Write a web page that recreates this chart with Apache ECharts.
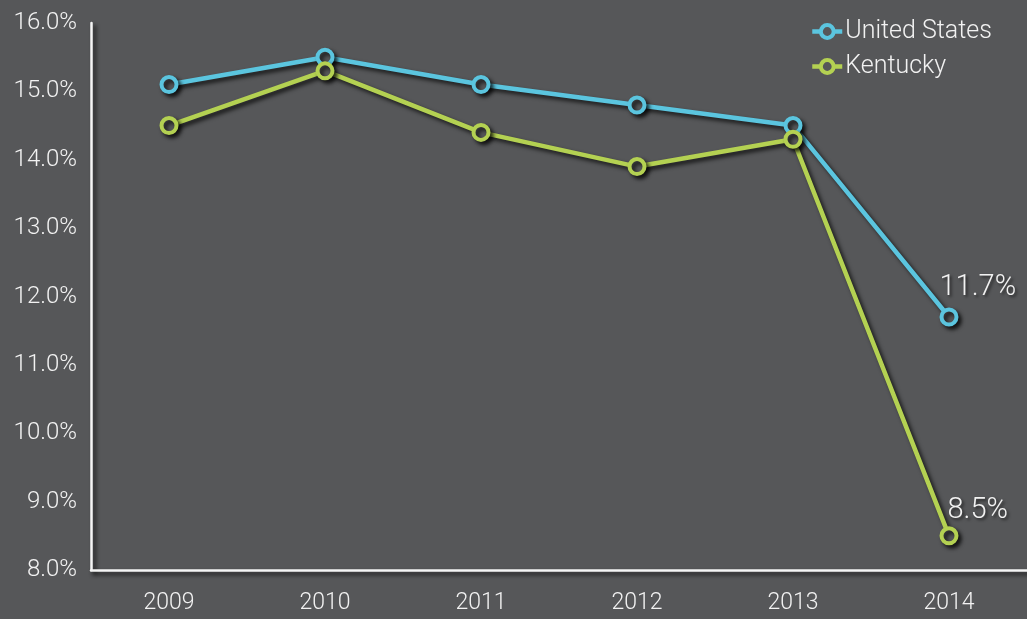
<!DOCTYPE html>
<html><head><meta charset="utf-8">
<script src="https://cdn.jsdelivr.net/npm/echarts@6/dist/echarts.min.js"></script>
<style>html,body{margin:0;padding:0;background:#565759;}#c{width:1027px;height:619px;}</style>
</head><body><div id="c"></div>
<script>
const years = ['2009','2010','2011','2012','2013','2014'];
const usValues = [15.1, 15.5, 15.1, 14.8, 14.5, 11.7];
const kyValues = [14.5, 15.3, 14.4, 13.9, 14.3, 8.5];
const seriesNames = ['United States', 'Kentucky'];
const yTicks = [8, 9, 10, 11, 12, 13, 14, 15, 16];

const BG = '#565759';
const FONT = 'Roboto, "Open Sans", sans-serif';
const shadow = {shadowColor:'rgba(0,0,0,0.75)', shadowBlur:4, shadowOffsetX:3, shadowOffsetY:3};

function withEndLabel(vals, pos){
  return vals.map((v,i)=> i===vals.length-1 ? {value:v, label:{show:true, position:pos, align:'left', verticalAlign:'middle',
    formatter: v.toFixed(1)+'%', color:'#f2f2f2', fontSize:29, fontWeight:300, fontFamily:FONT,
    textShadowColor:'rgba(0,0,0,0.6)', textShadowBlur:3, textShadowOffsetX:2, textShadowOffsetY:2}} : v);
}
function mkSeries(name, vals, color, pos){
  return {name, type:'line', data:withEndLabel(vals,pos), symbol:'circle', symbolSize:15,
    lineStyle:Object.assign({color, width:4.5}, shadow),
    itemStyle:Object.assign({color:BG, borderColor:color, borderWidth:4}, shadow),
    emphasis:{disabled:true}, z:2};
}
const chart = echarts.init(document.getElementById('c'));
chart.setOption({
  backgroundColor: BG,
  animation:false,
  textStyle:{fontFamily:FONT, fontWeight:300},
  legend:{data:seriesNames, left:805, top:14, orient:'vertical', itemWidth:30, itemHeight:16, itemGap:10,
    lineStyle:{width:4.5}, itemStyle:{borderWidth:4},
    textStyle:{color:'#f2f2f2', fontSize:25, fontWeight:300, fontFamily:FONT, padding:[0,0,0,-2]}},
  grid:{left:91, right:0, top:23, bottom:49, containLabel:false},
  xAxis:{type:'category', data:years, boundaryGap:true,
    axisLine:{lineStyle:Object.assign({color:'#f5f5f5', width:2.5}, shadow)},
    axisTick:{show:false},
    axisLabel:{color:'#f2f2f2', fontSize:23, fontWeight:300, margin:22}},
  yAxis:{type:'value', min:yTicks[0], max:yTicks[yTicks.length-1], interval:1,
    axisLine:{show:true, lineStyle:Object.assign({color:'#f5f5f5', width:2.5}, shadow)},
    axisTick:{show:false}, splitLine:{show:false},
    axisLabel:{color:'#f2f2f2', fontSize:24, fontWeight:300, margin:14, formatter:v=>v.toFixed(1)+'%'}},
  series:[
    mkSeries(seriesNames[0], usValues, '#5bc5df', [0,-20]),
    mkSeries(seriesNames[1], kyValues, '#b4d152', [8,-16])
  ]
});
</script></body></html>
